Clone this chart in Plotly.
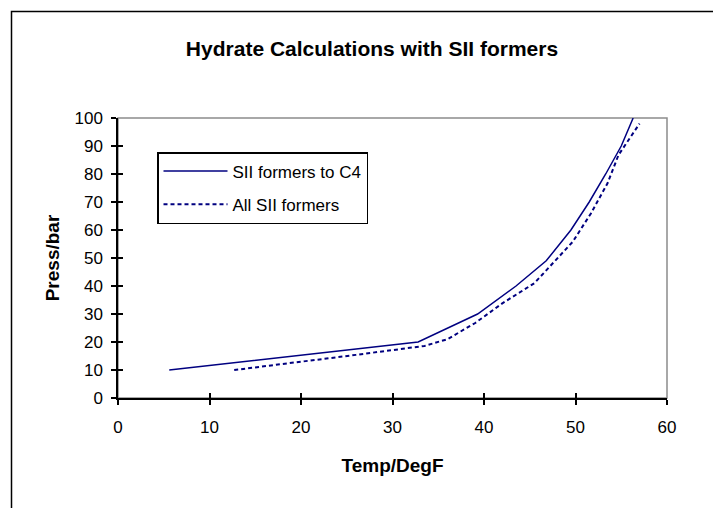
import plotly.graph_objects as go

# Data
temp_c4 = [5.6, 32.8, 39.3, 43.5, 46.8, 49.5, 51.5, 53.3, 55.0, 56.3]
press_c4 = [10, 20, 30, 40, 49, 60, 70, 80, 90, 100]

temp_all = [12.7, 20.0, 26.0, 33.5, 36.0, 39.0, 42.0, 45.5, 47.0, 49.7, 51.7, 53.5, 54.7, 56.0, 57.0]
press_all = [10, 12.9, 15.4, 18.6, 21, 26.7, 33.8, 41, 46.3, 55.8, 66, 76.7, 86.8, 93, 98]

x_ticks = [0, 10, 20, 30, 40, 50, 60]
y_ticks = [0, 10, 20, 30, 40, 50, 60, 70, 80, 90, 100]

NAVY = "#000080"
FONT = "Arial, Liberation Sans, sans-serif"

fig = go.Figure()
fig.add_trace(go.Scatter(x=temp_c4, y=press_c4, mode="lines", name="SII formers to C4",
                         legendgroup="a", line=dict(color=NAVY, width=1.5)))
fig.add_trace(go.Scatter(x=temp_all, y=press_all, mode="lines", name="All SII formers",
                         legendgroup="b", line=dict(color=NAVY, width=2, dash="4px,3px")))
# invisible trace to carry inside tick marks (cross ticks)
fig.add_trace(go.Scatter(x=[None], y=[None], xaxis="x2", yaxis="y2", showlegend=False,
                         hoverinfo="skip"))

W, H = 713, 508
L, R, T, B = 118, 46, 118, 110
pw, ph = W - L - R, H - T - B

def px2paper_x(px):
    return (px - L) / pw

def px2paper_y(py):
    return (H - B - py) / ph

fig.update_layout(
    width=W, height=H,
    margin=dict(l=L, r=R, t=T, b=B),
    paper_bgcolor="white", plot_bgcolor="white",
    font=dict(family=FONT, size=17, color="black"),
    title=dict(text="<b>Hydrate Calculations with SII formers</b>", x=372 / W, xref="container",
               xanchor="center", y=1 - 49 / H, yanchor="middle",
               font=dict(family=FONT, size=21, color="black")),
    xaxis=dict(range=[0, 60], tickvals=x_ticks, ticks="outside", ticklen=5, tickwidth=1.5,
               tickcolor="black", showline=True, linecolor="black", linewidth=1.5,
               showgrid=False, zeroline=False, ticklabelstandoff=8,
               tickfont=dict(size=17),
               title=dict(text="<b>Temp/DegF</b>", standoff=23, font=dict(size=19))),
    yaxis=dict(range=[0, 100], tickvals=y_ticks, ticks="outside", ticklen=5, tickwidth=1.5,
               tickcolor="black", showline=True, linecolor="black", linewidth=1.5,
               showgrid=False, zeroline=False, ticklabelstandoff=5,
               tickfont=dict(size=17),
               title=dict(text="<b>Press/bar</b>", standoff=10, font=dict(size=19))),
    xaxis2=dict(overlaying="x", matches="x", range=[0, 60], tickvals=x_ticks, ticks="inside",
                ticklen=5, tickwidth=1.5, tickcolor="black", showticklabels=False,
                showline=False, showgrid=False, zeroline=False, anchor="y2", side="bottom"),
    yaxis2=dict(overlaying="y", matches="y", range=[0, 100], tickvals=y_ticks, ticks="inside",
                ticklen=5, tickwidth=1.5, tickcolor="black", showticklabels=False,
                showline=False, showgrid=False, zeroline=False, anchor="x2", side="left"),
    legend=dict(x=px2paper_x(157), y=px2paper_y(152), xanchor="left", yanchor="top",
                bgcolor="white", bordercolor="black", borderwidth=1.5,
                font=dict(family=FONT, size=17, color="black"),
                itemwidth=64, traceorder="grouped", tracegroupgap=8),
    showlegend=True,
    shapes=[
        # plot-area frame (gray top/right)
        dict(type="rect", xref="paper", yref="paper", x0=0, x1=1, y0=0, y1=1,
             line=dict(color="#8c8c8c", width=1.5), layer="below"),
        # outer chart border (extends past the image on right/bottom)
        dict(type="rect", xref="paper", yref="paper",
             x0=px2paper_x(11.5), x1=px2paper_x(760), y0=px2paper_y(560), y1=px2paper_y(11.5),
             line=dict(color="black", width=1.5), layer="above"),
    ],
)

fig.write_html("out.html")
